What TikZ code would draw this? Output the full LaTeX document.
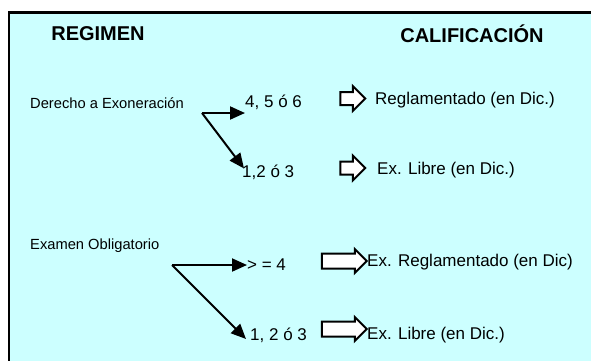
\documentclass[tikz,border=0pt]{standalone}
\usepackage{fontspec}
\setmainfont{Liberation Sans}
\usetikzlibrary{arrows.meta,shapes.arrows}
\definecolor{boxcyan}{HTML}{CCFFFF}
\tikzset{
  head/.style={inner sep=0pt,font=\fontsize{20}{24}\selectfont\bfseries},
  regime/.style={anchor=west,inner sep=0pt,font=\fontsize{14.7}{17}\selectfont},
  nota/.style={anchor=west,inner sep=0pt,font=\fontsize{17}{20}\selectfont},
  fork/.style={-{Triangle[length=15pt,width=13pt]},line width=2pt},
  bigarrow/.style={single arrow,draw,fill=white,line width=2pt,inner xsep=0pt,
    inner ysep=5.5pt,single arrow head extend=6pt,minimum height=25pt}
}

\begin{document}
\begin{tikzpicture}[x=1pt,y=-1pt]
   \useasboundingbox (0,0) rectangle (591,360);
   \clip (0,0) rectangle (591,360);
   \draw[line width=2.5pt,fill=boxcyan] (9,12.5) rectangle (620,380);
   % titulos
   \node[head] (reg) at (98,34) {REGIMEN};
   \node[head] (cal) at (472,34) {CALIFICACIÓN};
   % derecho a exoneracion
   \node[regime] (der) at (30,103) {Derecho a Exoneración};
   \coordinate (s1) at (202,113);
   \node[nota] (n456) at (245,102) {4, 5 ó 6};
   \node[nota] (n123) at (242,172) {1,2 ó 3};
   \draw[fork] (s1) -- (s1 -| n456.west);
   \draw[fork] (s1) -- ([xshift=2pt,yshift=-4pt]n123.north west);
   \node[bigarrow] (b1) at (349.5,98.5) {};
   \node[bigarrow] (b2) at (349.5,168) {};
   \node[nota] (rg1) at (375,100) {Reglamentado (en Dic.)};
   \node[nota] (lb1) at (377,170) {Ex. Libre (en Dic.)};
   % examen obligatorio
   \node[regime] (exa) at (30,246) {Examen Obligatorio};
   \coordinate (s2) at (172,265);
   \node[nota] (n4) at (247,265) {> = 4};
   \node[nota] (n123b) at (250,335) {1, 2 ó 3};
   \draw[fork] (s2) -- (s2 -| n4.west);
   \draw[fork] (s2) -- ([xshift=-4pt,yshift=-4pt]n123b.west);
   \node[bigarrow,minimum height=45pt,single arrow head extend=4.5pt,inner ysep=6.5pt] (b3) at (340.5,261) {};
   \node[bigarrow,minimum height=45pt,single arrow head extend=4.5pt,inner ysep=6.5pt] (b4) at (340.5,329) {};
   \node[nota] (rg2) at (367,262) {Ex. Reglamentado (en Dic)};
   \node[nota] (lb2) at (367,335) {Ex. Libre (en Dic.)};
\end{tikzpicture}
\end{document}
